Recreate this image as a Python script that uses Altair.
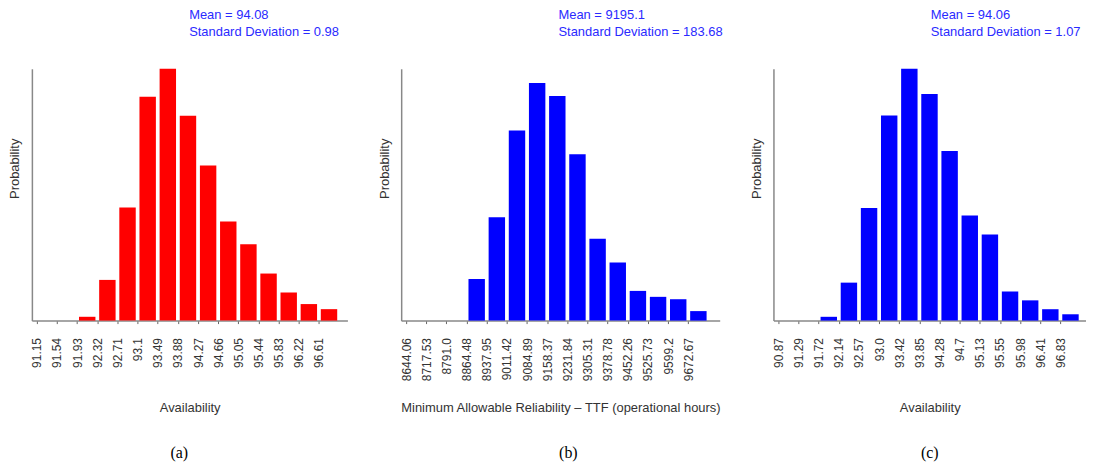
import altair as alt
import pandas as pd

# ---- data ----
labels_a = ["91.15", "91.54", "91.93", "92.32", "92.71", "93.1", "93.49", "93.88",
            "94.27", "94.66", "95.05", "95.44", "95.83", "96.22", "96.61"]
prob_a = [0.0, 0.0, 0.003, 0.032, 0.089, 0.176, 0.198, 0.161, 0.122, 0.078,
          0.060, 0.037, 0.022, 0.013, 0.009]

labels_b = ["8644.06", "8717.53", "8791.0", "8864.48", "8937.95", "9011.42", "9084.89",
            "9158.37", "9231.84", "9305.31", "9378.78", "9452.26", "9525.73", "9599.2",
            "9672.67"]
prob_b = [0.0, 0.0, 0.0, 0.035, 0.087, 0.160, 0.200, 0.189, 0.140, 0.069,
          0.049, 0.025, 0.020, 0.018, 0.008]

labels_c = ["90.87", "91.29", "91.72", "92.14", "92.57", "93.0", "93.42", "93.85",
            "94.28", "94.7", "95.13", "95.55", "95.98", "96.41", "96.83"]
prob_c = [0.0, 0.0, 0.003, 0.030, 0.089, 0.162, 0.199, 0.179, 0.134, 0.083,
          0.068, 0.023, 0.016, 0.009, 0.005]

stats_a = ("94.08", "0.98")
stats_b = ("9195.1", "183.68")
stats_c = ("94.06", "1.07")

titles = ["Availability", "Minimum Allowable Reliability \u2013 TTF (operational hours)", "Availability"]
tags = ["(a)", "(b)", "(c)"]

FONT = "Liberation Sans"
PX_PER_BIN = 20.9
PLOT_H = 253


def panel(labels, probs, color, xtitle, stats, ymax, width, tag, tag_x):
    n = len(labels)
    df = pd.DataFrame({"i": list(range(n)), "p": probs})
    label_expr = "[" + ",".join("'%s'" % l for l in labels) + "][datum.value]"
    x = alt.X(
        "c:Q",
        scale=alt.Scale(domain=[0, width / PX_PER_BIN], nice=False, zero=False),
        axis=alt.Axis(
            values=list(range(n)), labelExpr=label_expr, labelAngle=-90,
            labelPadding=14, tickSize=3, grid=False, title=xtitle,
            titleY=87, titleBaseline="middle", labelFlush=False, labelOverlap=False,
        ),
    )
    y = alt.Y(
        "p:Q",
        scale=alt.Scale(domain=[0, ymax], nice=False),
        axis=alt.Axis(labels=False, ticks=False, grid=False, title="Probability",
                      titleX=-17, titleY=100, titleBaseline="middle", titleAlign="center",
                      titleAngle=-90),
    )
    bars = (
        alt.Chart(df)
        .transform_calculate(c="datum.i + 0.5")
        .mark_bar(size=16.5, color=color)
        .encode(x=x, y=y)
    )
    stat_df = pd.DataFrame({"t": ["Mean = %s\nStandard Deviation = %s" % stats]})
    stat = (
        alt.Chart(stat_df)
        .mark_text(align="left", baseline="alphabetic", font=FONT, fontSize=13,
                   color="#2a2aff", lineBreak="\n", lineHeight=17)
        .encode(x=alt.value(158), y=alt.value(-50), text="t:N")
    )
    tag_df = pd.DataFrame({"t": [tag]})
    tagm = (
        alt.Chart(tag_df)
        .mark_text(align="center", baseline="middle", font="Liberation Serif",
                   fontSize=16, color="#000000")
        .encode(x=alt.value(tag_x), y=alt.value(386), text="t:N")
    )
    return alt.layer(bars, stat, tagm).properties(width=width, height=PLOT_H)


pa = panel(labels_a, prob_a, "#ff0000", titles[0], stats_a, 0.198, 317, tags[0], 148)
pb = panel(labels_b, prob_b, "#0000ff", titles[1], stats_b, 0.212, 320, tags[1], 168)
pc = panel(labels_c, prob_c, "#0000ff", titles[2], stats_c, 0.199, 314, tags[2], 157)

chart = (
    alt.hconcat(pa, pb, pc, spacing=54, bounds="flush")
    .properties(padding={"left": 1, "top": 0, "right": 0, "bottom": 0})
    .configure_view(stroke=None)
    .configure_axis(
        domainColor="#888888", domainWidth=1.5, tickColor="#666666",
        labelFont=FONT, labelFontSize=12, labelColor="#333333",
        titleFont=FONT, titleFontSize=13, titleFontWeight="normal", titleColor="#333333",
    )
)

chart.save("out.html", embed_options={"renderer": "svg", "actions": False})
